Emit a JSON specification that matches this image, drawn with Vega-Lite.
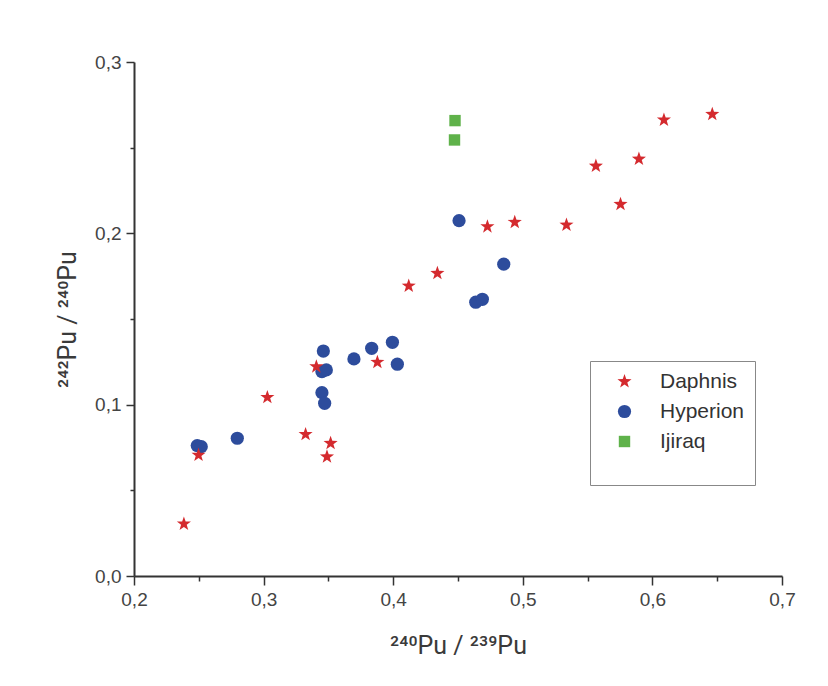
{
  "$schema": "https://vega.github.io/schema/vega-lite/v6.json",
  "width": 648,
  "height": 514,
  "autosize": {"type": "none"},
  "padding": {"left": 134, "top": 62, "right": 46, "bottom": 110},
  "background": "white",
  "config": {"view": {"stroke": null}, "font": "Liberation Sans"},
  "data": {
    "values": [
      {"series": "Hyperion", "x": 0.2488, "y": 0.0761},
      {"series": "Hyperion", "x": 0.2519, "y": 0.0755},
      {"series": "Hyperion", "x": 0.2797, "y": 0.0804},
      {"series": "Hyperion", "x": 0.3461, "y": 0.1313},
      {"series": "Hyperion", "x": 0.3450, "y": 0.1193},
      {"series": "Hyperion", "x": 0.3484, "y": 0.1203},
      {"series": "Hyperion", "x": 0.3450, "y": 0.1070},
      {"series": "Hyperion", "x": 0.3471, "y": 0.1008},
      {"series": "Hyperion", "x": 0.3697, "y": 0.1267},
      {"series": "Hyperion", "x": 0.3834, "y": 0.1329},
      {"series": "Hyperion", "x": 0.3994, "y": 0.1364},
      {"series": "Hyperion", "x": 0.4032, "y": 0.1236},
      {"series": "Hyperion", "x": 0.4508, "y": 0.2074},
      {"series": "Hyperion", "x": 0.4853, "y": 0.1820},
      {"series": "Hyperion", "x": 0.4637, "y": 0.1598},
      {"series": "Hyperion", "x": 0.4688, "y": 0.1615},
      {"series": "Daphnis", "x": 0.2385, "y": 0.0304},
      {"series": "Daphnis", "x": 0.2498, "y": 0.0706},
      {"series": "Daphnis", "x": 0.3029, "y": 0.1043},
      {"series": "Daphnis", "x": 0.3324, "y": 0.0827},
      {"series": "Daphnis", "x": 0.3407, "y": 0.1222},
      {"series": "Daphnis", "x": 0.3517, "y": 0.0775},
      {"series": "Daphnis", "x": 0.3489, "y": 0.0696},
      {"series": "Daphnis", "x": 0.3878, "y": 0.1248},
      {"series": "Daphnis", "x": 0.4120, "y": 0.1693},
      {"series": "Daphnis", "x": 0.4341, "y": 0.1767},
      {"series": "Daphnis", "x": 0.4727, "y": 0.2039},
      {"series": "Daphnis", "x": 0.4938, "y": 0.2065},
      {"series": "Daphnis", "x": 0.5337, "y": 0.2049},
      {"series": "Daphnis", "x": 0.5564, "y": 0.2393},
      {"series": "Daphnis", "x": 0.5754, "y": 0.2170},
      {"series": "Daphnis", "x": 0.5896, "y": 0.2434},
      {"series": "Daphnis", "x": 0.6089, "y": 0.2662},
      {"series": "Daphnis", "x": 0.6462, "y": 0.2695},
      {"series": "Ijiraq", "x": 0.4477, "y": 0.2658},
      {"series": "Ijiraq", "x": 0.4473, "y": 0.2545}
    ]
  },
  "mark": {"type": "point", "filled": true, "opacity": 1},
  "encoding": {
    "x": {
      "field": "x",
      "type": "quantitative",
      "scale": {"domain": [0.2, 0.7], "nice": false, "zero": false},
      "axis": {
        "values": [0.2, 0.25, 0.3, 0.35, 0.4, 0.45, 0.5, 0.55, 0.6, 0.65, 0.7],
        "labelExpr": "abs(datum.value*10-round(datum.value*10))<0.001 ? replace(format(datum.value,'.1f'),'.',',') : ''",
        "tickSize": {"condition": {"test": "abs(datum.value*10-round(datum.value*10))<0.001", "value": 9}, "value": 5},
        "grid": false,
        "domainColor": "#333333",
        "domainWidth": 2,
        "tickColor": "#333333",
        "tickWidth": 1.5,
        "labelFont": "Liberation Sans",
        "labelFontSize": 19,
        "labelColor": "#444444",
        "labelPadding": 5,
        "labelOverlap": false,
        "labelFlush": false,
        "title": "²⁴⁰Pu / ²³⁹Pu",
        "titleFont": "Roboto",
        "titleFontSize": 25,
        "titleFontWeight": "normal",
        "titleColor": "#3a3a3a",
        "titlePadding": 24
      }
    },
    "y": {
      "field": "y",
      "type": "quantitative",
      "scale": {"domain": [0, 0.3], "nice": false, "zero": false},
      "axis": {
        "values": [0, 0.05, 0.1, 0.15, 0.2, 0.25, 0.3],
        "labelExpr": "abs(datum.value*10-round(datum.value*10))<0.001 ? replace(format(datum.value,'.1f'),'.',',') : ''",
        "tickSize": {"condition": {"test": "abs(datum.value*10-round(datum.value*10))<0.001", "value": 8}, "value": 4},
        "grid": false,
        "domainColor": "#333333",
        "domainWidth": 2,
        "tickColor": "#333333",
        "tickWidth": 1.5,
        "labelFont": "Liberation Sans",
        "labelFontSize": 19,
        "labelColor": "#444444",
        "labelPadding": 5,
        "labelOverlap": false,
        "labelFlush": false,
        "title": "²⁴²Pu / ²⁴⁰Pu",
        "titleFont": "Roboto",
        "titleFontSize": 25,
        "titleFontWeight": "normal",
        "titleColor": "#3a3a3a",
        "titlePadding": 14
      }
    },
    "color": {
      "field": "series",
      "type": "nominal",
      "scale": {"domain": ["Daphnis", "Hyperion", "Ijiraq"], "range": ["#d42a2e", "#2d4c9c", "#5fb24a"]},
      "legend": {
        "title": " ",
        "titleOrient": "bottom",
        "titleFontSize": 18,
        "titlePadding": 5,
        "orient": "none",
        "legendX": 456,
        "legendY": 299,
        "strokeColor": "#888888",
        "fillColor": "white",
        "padding": 10,
        "symbolSize": 90,
        "symbolOffset": 14,
        "labelOffset": 25,
        "labelFont": "Liberation Sans",
        "labelFontSize": 21,
        "labelColor": "#333333",
        "rowPadding": 8
      }
    },
    "shape": {
      "field": "series",
      "type": "nominal",
      "scale": {
        "domain": ["Daphnis", "Hyperion", "Ijiraq"],
        "range": ["M0,-1L0.235,-0.324L0.951,-0.309L0.38,0.124L0.588,0.809L0,0.4L-0.588,0.809L-0.38,0.124L-0.951,-0.309L-0.235,-0.324Z", "circle", "square"]
      },
      "legend": {
        "title": " ",
        "titleOrient": "bottom",
        "titleFontSize": 18,
        "titlePadding": 5,
        "orient": "none",
        "legendX": 456,
        "legendY": 299,
        "strokeColor": "#888888",
        "fillColor": "white",
        "padding": 10,
        "symbolSize": 90,
        "symbolOffset": 14,
        "labelOffset": 25,
        "labelFont": "Liberation Sans",
        "labelFontSize": 21,
        "labelColor": "#333333",
        "rowPadding": 8
      }
    },
    "size": {
      "field": "series",
      "type": "nominal",
      "scale": {"domain": ["Daphnis", "Hyperion", "Ijiraq"], "range": [220, 130, 100]},
      "legend": null
    }
  }
}
